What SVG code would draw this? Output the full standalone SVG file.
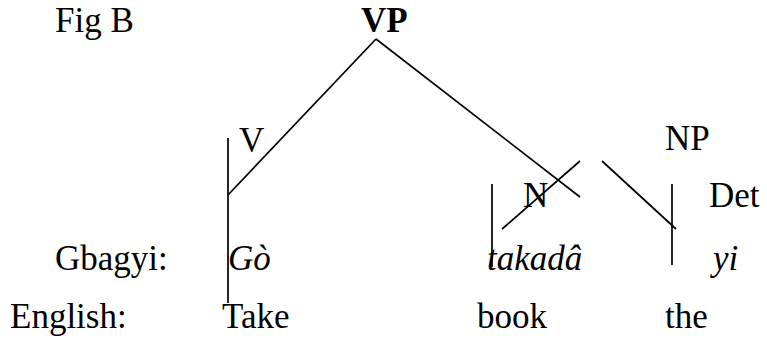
<svg xmlns="http://www.w3.org/2000/svg" width="767" height="339" viewBox="0 0 767 339">
<style>
text{font-size:35px;fill:#000}
.b{font-weight:bold}
.i{font-style:italic}
line{stroke:#000;stroke-width:1.7;stroke-linecap:butt}
</style>
<rect width="767" height="339" fill="#fff"/>
<g font-family="Liberation Serif, DejaVu Serif, serif">
<g id="title"><text x="55" y="32">Fig B</text></g>
<g id="vp"><text class="b" x="361" y="32">VP</text></g>
<g id="v"><text x="239" y="152">V</text></g>
<g id="np"><text x="665" y="150">NP</text></g>
<g id="n"><text x="523" y="207">N</text></g>
<g id="det"><text x="709" y="207">Det</text></g>
<g id="gbagyi">
<text x="55" y="270">Gbagyi:</text>
<text class="i" x="228" y="270">Gò</text>
<text class="i" x="487" y="270">takadâ</text>
<text class="i" x="713" y="270">yi</text>
</g>
<g id="english">
<text x="10" y="328">English:</text>
<text x="222" y="328">Take</text>
<text x="477" y="328">book</text>
<text x="665" y="328">the</text>
</g>
</g>
<g id="connectors">
<line x1="376" y1="39" x2="228" y2="195"/>
<line x1="376" y1="39" x2="580" y2="197"/>
<line x1="228" y1="138" x2="228" y2="303"/>
<line x1="580" y1="161" x2="502" y2="229"/>
<line x1="602" y1="161" x2="676" y2="229"/>
<line x1="492" y1="184" x2="492" y2="267"/>
<line x1="672" y1="184" x2="672" y2="265"/>
</g>
</svg>
